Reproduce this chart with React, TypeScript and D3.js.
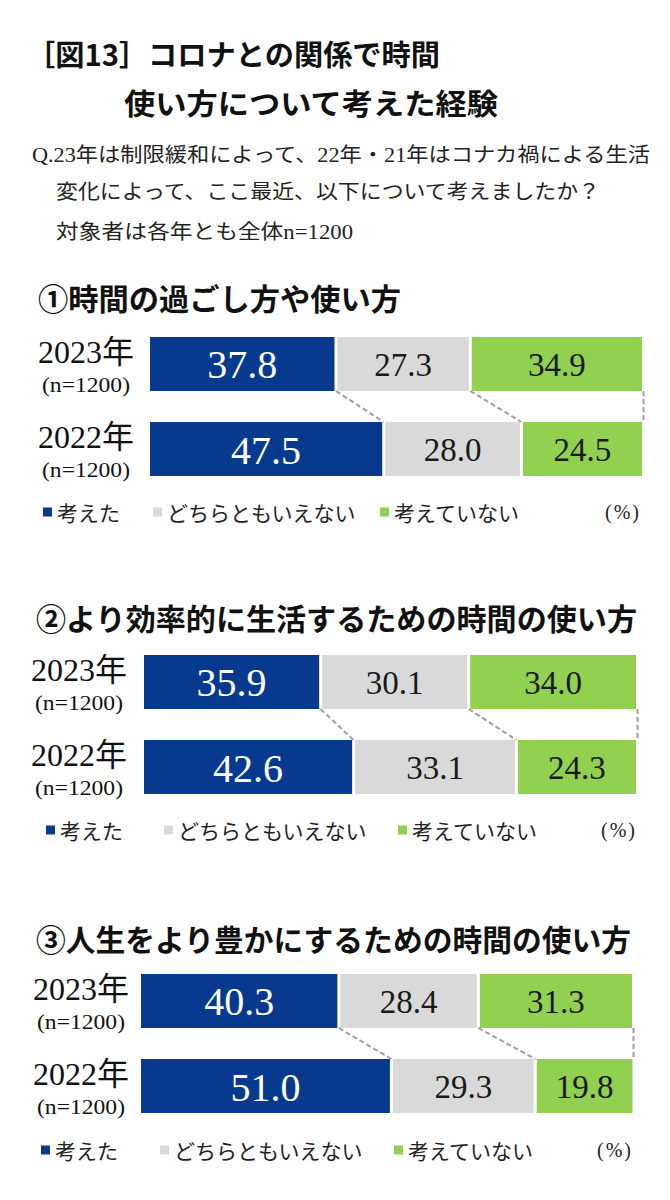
import React from 'react';
import * as d3 from 'd3';

// data
const categories = ['考えた', 'どちらともいえない', '考えていない'];
const years = ['2023年', '2022年'];
const sampleSize = '(n=1200)';
const unitLabel = '(%)';
const panelTitles = [
  '①時間の過ごし方や使い方',
  '②より効率的に生活するための時間の使い方',
  '③人生をより豊かにするための時間の使い方',
];
const spendTime2023 = [37.8, 27.3, 34.9];
const spendTime2022 = [47.5, 28.0, 24.5];
const efficient2023 = [35.9, 30.1, 34.0];
const efficient2022 = [42.6, 33.1, 24.3];
const richLife2023 = [40.3, 28.4, 31.3];
const richLife2022 = [51.0, 29.3, 19.8];

const titleLines = ['［図13］コロナとの関係で時間', '使い方について考えた経験'];
const questionLines = [
  'Q.23年は制限緩和によって、22年・21年はコナカ禍による生活',
  '変化によって、ここ最近、以下について考えましたか？',
  '対象者は各年とも全体n=1200',
];

const colors = ['#073a8e', '#d9d9d9', '#92d050'];
const labelColors = ['#ffffff', '#1a1a1a', '#1a1a1a'];
const FONT = "'Liberation Serif', 'Noto Sans CJK JP', serif";
const SANS = "'Noto Sans CJK JP', sans-serif";

// layout per panel
const layouts = [
  { titleY: 297, titleX: [38, 401], barTop: 337, left: 150, right: 642, labelX: 86, legendY: 512, legendX: [43, 153, 380, 605] },
  { titleY: 617, titleX: [36, 637], barTop: 655, left: 144, right: 636, labelX: 79, legendY: 830, legendX: [46, 164, 398, 601] },
  { titleY: 938, titleX: [36, 631], barTop: 974, left: 141, right: 632, labelX: 81, legendY: 1150, legendX: [41, 160, 394, 597] },
];

const panelRows = [
  [spendTime2023, spendTime2022],
  [efficient2023, efficient2022],
  [richLife2023, richLife2022],
];

type Layout = typeof layouts[number];

function Panel({ layout, title, rows }: { layout: Layout; title: string; rows: number[][] }) {
  const x = d3.scaleLinear().domain([0, 100]).range([layout.left, layout.right]);
  const y = d3.scaleBand<string>()
    .domain(years)
    .range([layout.barTop, layout.barTop + 139])
    .paddingInner(0.365);
  const bw = y.bandwidth();

  const table = years.map((yr, i) => {
    const o: any = { year: yr };
    categories.forEach((c, k) => (o[c] = rows[i][k]));
    return o;
  });
  const stacked = d3.stack<any>().keys(categories)(table);

  const gap = 1.5;
  const top0 = (y(years[0]) as number) + bw;
  const top1 = y(years[1]) as number;

  return (
    <g>
      <text
        x={layout.titleX[0]}
        y={layout.titleY}
        dominantBaseline="central"
        fontFamily={SANS}
        fontWeight={700}
        fontSize={30}
        textLength={layout.titleX[1] - layout.titleX[0]}
        lengthAdjust="spacingAndGlyphs"
        fill="#111"
      >
        {title}
      </text>

      {stacked.map((layer, k) => (
        <g key={layer.key}>
          {layer.map((d, i) => {
            const x0 = x(d[0]) + (k > 0 ? gap : 0);
            const x1 = x(d[1]) - (k < categories.length - 1 ? gap : 0);
            const yy = y(years[i]) as number;
            return (
              <g key={i}>
                <rect x={x0} y={yy} width={x1 - x0} height={bw} fill={colors[k]} />
                <text
                  x={(x0 + x1) / 2}
                  y={yy + bw / 2 + 1}
                  textAnchor="middle"
                  dominantBaseline="central"
                  fontFamily={FONT}
                  fontSize={k === 0 ? 40 : 33}
                  fill={labelColors[k]}
                >
                  {rows[i][k].toFixed(1)}
                </text>
              </g>
            );
          })}
        </g>
      ))}

      {/* connectors */}
      {[0, 1].map((k) => (
        <line
          key={k}
          x1={x(stacked[k][0][1])}
          y1={top0}
          x2={x(stacked[k][1][1])}
          y2={top1}
          stroke="#a0a0a0"
          strokeWidth={2}
          strokeDasharray="5 3"
        />
      ))}
      <line x1={x(100) + 1.5} y1={top0} x2={x(100) + 1.5} y2={top1} stroke="#a0a0a0" strokeWidth={2} strokeDasharray="5 3" />

      {years.map((yr) => {
        const yy = y(yr) as number;
        return (
          <g key={yr}>
            <text x={layout.labelX} y={yy + 15} textAnchor="middle" dominantBaseline="central" fontFamily={FONT} fontSize={32} fill="#111">
              {yr}
            </text>
            <text
              x={layout.labelX - 44}
              y={yy + 48}
              dominantBaseline="central"
              fontFamily={FONT}
              fontSize={20}
              textLength={88}
              lengthAdjust="spacingAndGlyphs"
              fill="#111"
            >
              {sampleSize}
            </text>
          </g>
        );
      })}

      {/* legend */}
      {categories.map((c, k) => (
        <g key={c}>
          <rect x={layout.legendX[k]} y={layout.legendY - 4.5} width={9} height={9} fill={colors[k]} />
          <text x={layout.legendX[k] + 14} y={layout.legendY} dominantBaseline="central" fontFamily={SANS} fontSize={21} fill="#222">
            {c}
          </text>
        </g>
      ))}
      <text
        x={layout.legendX[3]}
        y={layout.legendY}
        dominantBaseline="central"
        fontFamily={FONT}
        fontSize={20}
        textLength={34}
        lengthAdjust="spacing"
        fill="#222"
      >
        {unitLabel}
      </text>
    </g>
  );
}

export default function App() {
  return (
    <svg
      width={670}
      height={1200}
      style={{ position: 'absolute', left: 0, top: 0, display: 'block', background: '#fff' }}
    >
      <rect width={670} height={1200} fill="#fff" />
      <text x={26} y={53} dominantBaseline="central" fontFamily={SANS} fontWeight={700} fontSize={29} textLength={414} lengthAdjust="spacingAndGlyphs" fill="#111">
        {titleLines[0]}
      </text>
      <text x={124} y={102} dominantBaseline="central" fontFamily={SANS} fontWeight={700} fontSize={29} textLength={374} lengthAdjust="spacingAndGlyphs" fill="#111">
        {titleLines[1]}
      </text>
      <text x={32} y={155} dominantBaseline="central" fontFamily={FONT} fontSize={20} textLength={618} lengthAdjust="spacingAndGlyphs" fill="#222">
        {questionLines[0]}
      </text>
      <text x={56} y={192} dominantBaseline="central" fontFamily={FONT} fontSize={20} textLength={544} lengthAdjust="spacingAndGlyphs" fill="#222">
        {questionLines[1]}
      </text>
      <text x={56} y={232} dominantBaseline="central" fontFamily={FONT} fontSize={20} textLength={297} lengthAdjust="spacingAndGlyphs" fill="#222">
        {questionLines[2]}
      </text>
      {layouts.map((l, i) => (
        <Panel key={i} layout={l} title={panelTitles[i]} rows={panelRows[i]} />
      ))}
    </svg>
  );
}
